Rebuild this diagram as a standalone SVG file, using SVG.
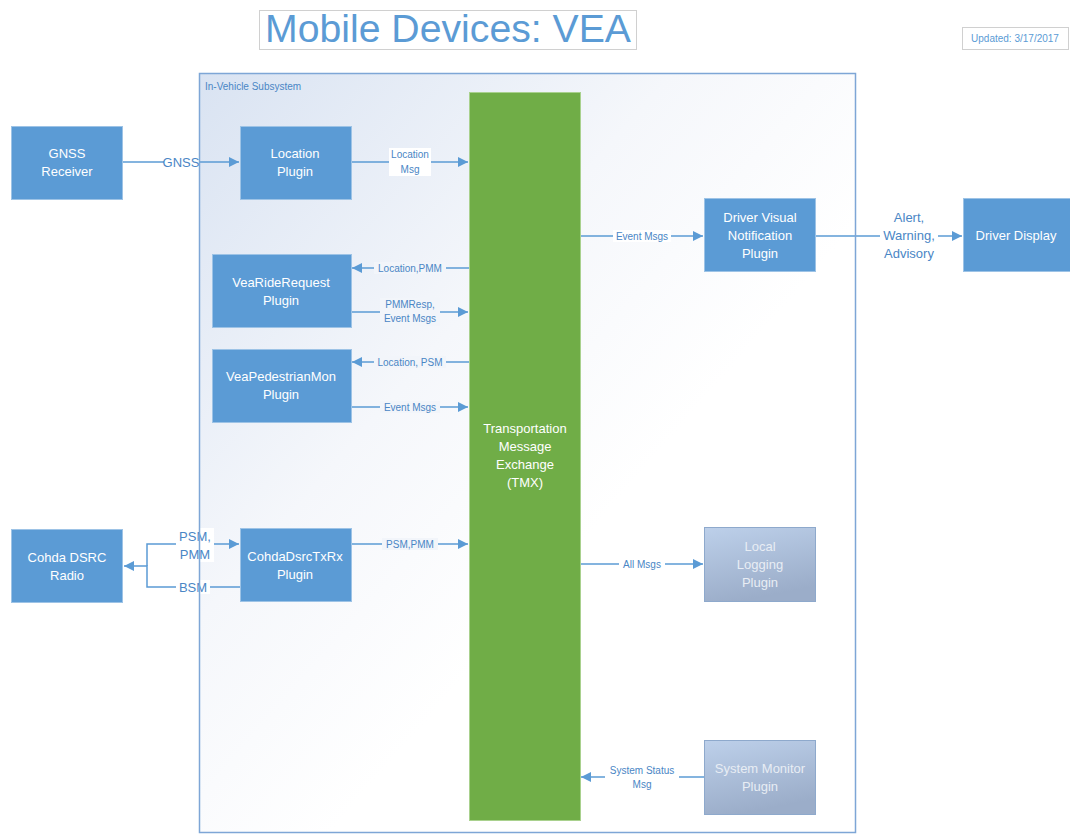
<svg xmlns="http://www.w3.org/2000/svg" width="1070" height="835" viewBox="0 0 1070 835">
<defs>
<linearGradient id="subBg" x1="0" y1="0" x2="0.6" y2="0.6">
<stop offset="0" stop-color="#d9e3f2"/>
<stop offset="0.6" stop-color="#f5f7fb"/>
<stop offset="1" stop-color="#ffffff"/>
</linearGradient>
<linearGradient id="greyNode" x1="0" y1="0" x2="0.3" y2="1">
<stop offset="0" stop-color="#bdd0ea"/>
<stop offset="1" stop-color="#9badc9"/>
</linearGradient>
<marker id="arr" viewBox="0 0 10 10" refX="10" refY="5" markerWidth="10" markerHeight="10" markerUnits="userSpaceOnUse" orient="auto">
<path d="M0,0 L10,5 L0,10 z" fill="#5b9bd5"/>
</marker>
<style>
.node{fill:#5b9bd5;stroke:#9dc3e6;stroke-width:1}
.gnode{fill:url(#greyNode);stroke:#8ea9cc;stroke-width:1}
.nt{font-family:"Liberation Sans",Arial,sans-serif;font-size:13px;fill:#ffffff;text-anchor:middle}
.gt{font-family:"Liberation Sans",Arial,sans-serif;font-size:13px;fill:#e8edf4;text-anchor:middle}
.cn{stroke:#5b9bd5;stroke-width:1.5;fill:none}
.lbl{font-family:"Liberation Sans",Arial,sans-serif;font-size:10px;fill:#4a86c5;text-anchor:middle}
.lbl2{font-family:"Liberation Sans",Arial,sans-serif;font-size:13px;fill:#4a86c5;text-anchor:middle}
.lb{fill:#f2f5fa}
</style>
</defs>
<rect width="1070" height="835" fill="#ffffff"/>
<g id="title">
<rect x="259.5" y="10.5" width="377" height="39" fill="#ffffff" stroke="#d0d0d0"/>
<text x="448" y="42" font-family="Liberation Sans,Arial,sans-serif" font-size="38" fill="#5b9bd5" text-anchor="middle" textLength="366" lengthAdjust="spacingAndGlyphs">Mobile Devices: VEA</text>
</g>
<g id="updated">
<rect x="962.5" y="27.5" width="106" height="22" fill="#ffffff" stroke="#d0d0d0"/>
<text x="1015" y="42" font-family="Liberation Sans,Arial,sans-serif" font-size="10" fill="#5b9bd5" text-anchor="middle">Updated: 3/17/2017</text>
</g>
<g id="subsystem">
<rect x="199.5" y="73.5" width="656" height="759" fill="url(#subBg)"/>
<text x="205" y="90" font-family="Liberation Sans,Arial,sans-serif" font-size="10" fill="#4a86c5">In-Vehicle Subsystem</text>
</g>
<g id="connectors">
<line class="cn" x1="123" y1="162" x2="239" y2="162" marker-end="url(#arr)"/>
<line class="cn" x1="351" y1="162" x2="468" y2="162" marker-end="url(#arr)"/>
<line class="cn" x1="580" y1="236" x2="703" y2="236" marker-end="url(#arr)"/>
<line class="cn" x1="815" y1="236" x2="962" y2="236" marker-end="url(#arr)"/>
<line class="cn" x1="469" y1="268" x2="352" y2="268" marker-end="url(#arr)"/>
<line class="cn" x1="351" y1="312" x2="468" y2="312" marker-end="url(#arr)"/>
<line class="cn" x1="469" y1="362" x2="352" y2="362" marker-end="url(#arr)"/>
<line class="cn" x1="351" y1="407" x2="468" y2="407" marker-end="url(#arr)"/>
<line class="cn" x1="351" y1="544" x2="468" y2="544" marker-end="url(#arr)"/>
<polyline class="cn" points="147,566 147,544 239,544" marker-end="url(#arr)"/>
<polyline class="cn" points="240,587 147,587 147,566 124,566" marker-end="url(#arr)"/>
<line class="cn" x1="580" y1="564" x2="703" y2="564" marker-end="url(#arr)"/>
<line class="cn" x1="704" y1="777" x2="581" y2="777" marker-end="url(#arr)"/>
<rect x="164" y="154" width="35" height="16" fill="#ffffff"/>
<text class="lbl2" x="181" y="167">GNSS</text>
<rect x="389" y="148" width="42" height="28" fill="#ffffff"/>
<text class="lbl" x="410" y="158">Location</text>
<text class="lbl" x="410" y="173">Msg</text>
<rect x="613" y="230" width="58" height="12" fill="#ffffff"/>
<text class="lbl" x="642" y="239.5">Event Msgs</text>
<rect x="880" y="208" width="58" height="54" fill="#ffffff"/>
<text class="lbl2" x="909" y="222">Alert,</text>
<text class="lbl2" x="909" y="240">Warning,</text>
<text class="lbl2" x="909" y="258">Advisory</text>
<rect class="lb" x="374" y="262" width="72" height="12"/>
<text class="lbl" x="410" y="271.5">Location,PMM</text>
<rect class="lb" x="380" y="298" width="60" height="28"/>
<text class="lbl" x="410" y="308">PMMResp,</text>
<text class="lbl" x="410" y="322">Event Msgs</text>
<rect class="lb" x="374" y="356" width="72" height="12"/>
<text class="lbl" x="410" y="365.5">Location, PSM</text>
<rect class="lb" x="380" y="401" width="60" height="12"/>
<text class="lbl" x="410" y="410.5">Event Msgs</text>
<rect class="lb" x="382" y="538" width="56" height="12"/>
<text class="lbl" x="410" y="547.5">PSM,PMM</text>
<rect x="176" y="528" width="38" height="34" fill="#ffffff"/>
<text class="lbl2" x="195" y="541">PSM,</text>
<text class="lbl2" x="195" y="559">PMM</text>
<rect x="176" y="580" width="34" height="14" fill="#ffffff"/>
<text class="lbl2" x="193" y="591.5">BSM</text>
<rect x="619" y="558" width="46" height="12" fill="#ffffff"/>
<text class="lbl" x="642" y="567.5">All Msgs</text>
<rect x="605" y="764" width="74" height="28" fill="#ffffff"/>
<text class="lbl" x="642" y="774">System Status</text>
<text class="lbl" x="642" y="788">Msg</text>
</g>
<g id="subsystem-border">
<rect x="199.5" y="73.5" width="656" height="759" fill="none" stroke="#7ea6d6" stroke-width="1.5"/>
</g>
<g id="gnss">
<rect class="node" x="11.5" y="126.5" width="111" height="73"/>
<text class="nt" x="67" y="158">GNSS</text>
<text class="nt" x="67" y="176">Receiver</text>
</g>
<g id="location">
<rect class="node" x="240.5" y="126.5" width="111" height="73"/>
<text class="nt" x="295" y="158">Location</text>
<text class="nt" x="295" y="176">Plugin</text>
</g>
<g id="tmx">
<rect x="469.5" y="92.5" width="111" height="728" fill="#70ad47" stroke="#a9d18e" stroke-width="1"/>
<text class="nt" x="525" y="433">Transportation</text>
<text class="nt" x="525" y="451">Message</text>
<text class="nt" x="525" y="469">Exchange</text>
<text class="nt" x="525" y="487">(TMX)</text>
</g>
<g id="vearide">
<rect class="node" x="212.5" y="254.5" width="139" height="73"/>
<text class="nt" x="281" y="287">VeaRideRequest</text>
<text class="nt" x="281" y="305">Plugin</text>
</g>
<g id="veaped">
<rect class="node" x="212.5" y="349.5" width="139" height="73"/>
<text class="nt" x="281" y="381">VeaPedestrianMon</text>
<text class="nt" x="281" y="399">Plugin</text>
</g>
<g id="dvn">
<rect class="node" x="704.5" y="198.5" width="111" height="73"/>
<text class="nt" x="760" y="222">Driver Visual</text>
<text class="nt" x="760" y="240">Notification</text>
<text class="nt" x="760" y="258">Plugin</text>
</g>
<g id="display">
<rect class="node" x="963.5" y="198.5" width="107" height="73"/>
<text class="nt" x="1016" y="240">Driver Display</text>
</g>
<g id="cohda">
<rect class="node" x="11.5" y="529.5" width="111" height="73"/>
<text class="nt" x="67" y="562">Cohda DSRC</text>
<text class="nt" x="67" y="580">Radio</text>
</g>
<g id="cohdatxrx">
<rect class="node" x="240.5" y="528.5" width="111" height="73"/>
<text class="nt" x="295" y="561">CohdaDsrcTxRx</text>
<text class="nt" x="295" y="579">Plugin</text>
</g>
<g id="logging">
<rect class="gnode" x="704.5" y="527.5" width="111" height="74"/>
<text class="gt" x="760" y="551">Local</text>
<text class="gt" x="760" y="569">Logging</text>
<text class="gt" x="760" y="587">Plugin</text>
</g>
<g id="sysmon">
<rect class="gnode" x="704.5" y="740.5" width="111" height="74"/>
<text class="gt" x="760" y="773">System Monitor</text>
<text class="gt" x="760" y="791">Plugin</text>
</g>
</svg>
